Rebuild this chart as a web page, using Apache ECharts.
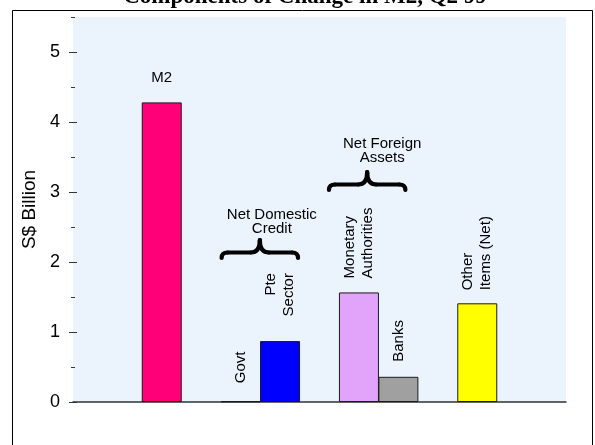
<!DOCTYPE html>
<html><head><meta charset="utf-8">
<script src="https://cdn.jsdelivr.net/npm/echarts@6/dist/echarts.min.js"></script>
<style>html,body{margin:0;padding:0;background:#fff}#c{width:595px;height:445px}</style>
</head><body><div id="c"></div>
<script>
// ---- data ----
const chartTitle = 'Components of Change in M2, Q2 99';
const yAxisName = 'S$ Billion';
const categories = ['M2', '', 'Govt', 'Pte Sector', '', 'Monetary Authorities', 'Banks', '', 'Other Items (Net)'];
const barLabels = ['M2', '', 'Govt', 'Pte\nSector', '', 'Monetary\nAuthorities', 'Banks', '', 'Other\nItems (Net)'];
const values = [4.28, null, 0.01, 0.87, null, 1.565, 0.36, null, 1.41];
const yTickValues = [0, 1, 2, 3, 4, 5];
const yMinorTickValues = [0.5, 1.5, 2.5, 3.5, 4.5, 5.5];
const groupNames = ['Net Domestic\nCredit', 'Net Foreign\nAssets'];
const groupMembers = [['Govt', 'Pte Sector'], ['Monetary Authorities', 'Banks']];

// ---- styles ----
const barColors = ['#FF0078', null, '#3a3a3a', '#0000FF', null, '#E2A3FB', '#A0A0A0', null, '#FFFF00'];
const FONT = 'Liberation Sans, Arial, sans-serif';
const labelStyle = [
  {rotate: 0, align: 'center', distance: 17},
  null,
  {rotate: 90, align: 'left', distance: 18},
  {rotate: 90, align: 'right', distance: 68},
  null,
  {rotate: 90, align: 'left', distance: 14},
  {rotate: 90, align: 'left', distance: 15},
  null,
  {rotate: 90, align: 'left', distance: 13}
];

const chart = echarts.init(document.getElementById('c'), null, {renderer: 'canvas'});

const seriesData = values.map((v, i) => {
  if (v === null) return null;
  const ls = labelStyle[i];
  const lab = {
    show: true,
    position: 'top',
    distance: ls.distance,
    formatter: barLabels[i],
    color: '#000',
    fontSize: 15,
    fontFamily: FONT,
    lineHeight: ls.rotate ? 18 : 15
  };
  if (ls.rotate) {
    lab.rotate = ls.rotate;
    lab.align = ls.align;
    lab.verticalAlign = 'middle';
  }
  return {
    value: v,
    itemStyle: {color: barColors[i], borderColor: '#1a1a1a', borderWidth: 1},
    label: lab
  };
});

const option = {
  animation: false,
  backgroundColor: '#fff',
  grid: [
    {left: 73, right: 29, top: 17, bottom: 43, show: true, backgroundColor: '#EBF4FD', borderWidth: 0},
    {left: 142, right: 98, top: 17, bottom: 43}
  ],
  xAxis: [
    {gridIndex: 0, type: 'value', min: 0, max: 1,
     axisLine: {show: true, onZero: false, lineStyle: {color: '#333', width: 1.5}},
     axisTick: {show: false}, axisLabel: {show: false}, splitLine: {show: false}},
    {gridIndex: 1, type: 'category', data: categories, show: false}
  ],
  yAxis: [
    {gridIndex: 0, type: 'value', position: 'left', min: 0, max: 5.5, interval: 1, offset: -4,
     name: yAxisName, nameLocation: 'middle', nameGap: 32,
     nameTextStyle: {fontSize: 19, color: '#000', fontFamily: FONT},
     axisLine: {show: false},
     axisTick: {show: true, length: 8, customValues: yTickValues, lineStyle: {color: '#333', width: 1}},
     axisLabel: {show: true, customValues: yTickValues, margin: 17, fontSize: 18, color: '#000', fontFamily: FONT},
     splitLine: {show: false}},
    {gridIndex: 0, type: 'value', position: 'left', min: 0, max: 5.5, interval: 0.5, offset: -2,
     axisLine: {show: false},
     axisTick: {show: true, length: 4, customValues: yMinorTickValues, lineStyle: {color: '#333', width: 1}},
     axisLabel: {show: false}, splitLine: {show: false}},
    {gridIndex: 1, type: 'value', min: 0, max: 5.5, show: false}
  ],
  series: [{
    type: 'bar',
    xAxisIndex: 1,
    yAxisIndex: 2,
    barWidth: 40,
    data: seriesData
  }]
};
chart.setOption(option);

function bracePieces(x0, x1, yt, ym, yb, r, rt) {
  const xc = (x0 + x1) / 2;
  const st = {stroke: '#000', lineWidth: 4.2, fill: null, lineCap: 'round'};
  return [
    {type: 'bezierCurve', shape: {x1: x0, y1: yb, cpx1: x0, cpy1: ym, x2: x0 + r, y2: ym}, style: st},
    {type: 'line', shape: {x1: x0 + r, y1: ym, x2: xc - rt, y2: ym}, style: st},
    {type: 'bezierCurve', shape: {x1: xc - rt, y1: ym, cpx1: xc, cpy1: ym, x2: xc, y2: yt}, style: st},
    {type: 'bezierCurve', shape: {x1: xc, y1: yt, cpx1: xc, cpy1: ym, x2: xc + rt, y2: ym}, style: st},
    {type: 'line', shape: {x1: xc + rt, y1: ym, x2: x1 - r, y2: ym}, style: st},
    {type: 'bezierCurve', shape: {x1: x1 - r, y1: ym, cpx1: x1, cpy1: ym, x2: x1, y2: yb}, style: st}
  ];
}

const groupLayout = [
  {dx0: 1, dx1: -2, top: 240, textDx: 12, textBottom: 236},
  {dx0: -10, dx1: -13, top: 172, textDx: 15, textBottom: 165}
];

const elements = [];
elements.push({type: 'rect', shape: {x: 12.5, y: 10.5, width: 580, height: 460},
  style: {stroke: '#000', lineWidth: 1, fill: null}, z: 100});
elements.push({type: 'text', x: 305, y: -2.5,
  style: {text: chartTitle, font: 'bold 23px "Liberation Serif", "Times New Roman", serif',
    fill: '#000', align: 'center', verticalAlign: 'middle'}, z: 100});

groupMembers.forEach((m, gi) => {
  const pA = chart.convertToPixel({gridIndex: 1}, [m[0], 0]);
  const pB = chart.convertToPixel({gridIndex: 1}, [m[1], 0]);
  const L = groupLayout[gi];
  const x0 = pA[0] - 20 + L.dx0;
  const x1 = pB[0] + 20 + L.dx1;
  const yt = L.top, ym = L.top + 12.5, yb = L.top + 18;
  bracePieces(x0, x1, yt, ym, yb, 6, 9).forEach(e => elements.push(e));
  elements.push({type: 'text', x: (x0 + x1) / 2 + L.textDx, y: L.textBottom,
    style: {text: groupNames[gi], font: '15px ' + FONT, fill: '#000', align: 'center',
      verticalAlign: 'bottom', lineHeight: 14}});
});

chart.setOption({graphic: {elements: elements}});
</script>
</body></html>
